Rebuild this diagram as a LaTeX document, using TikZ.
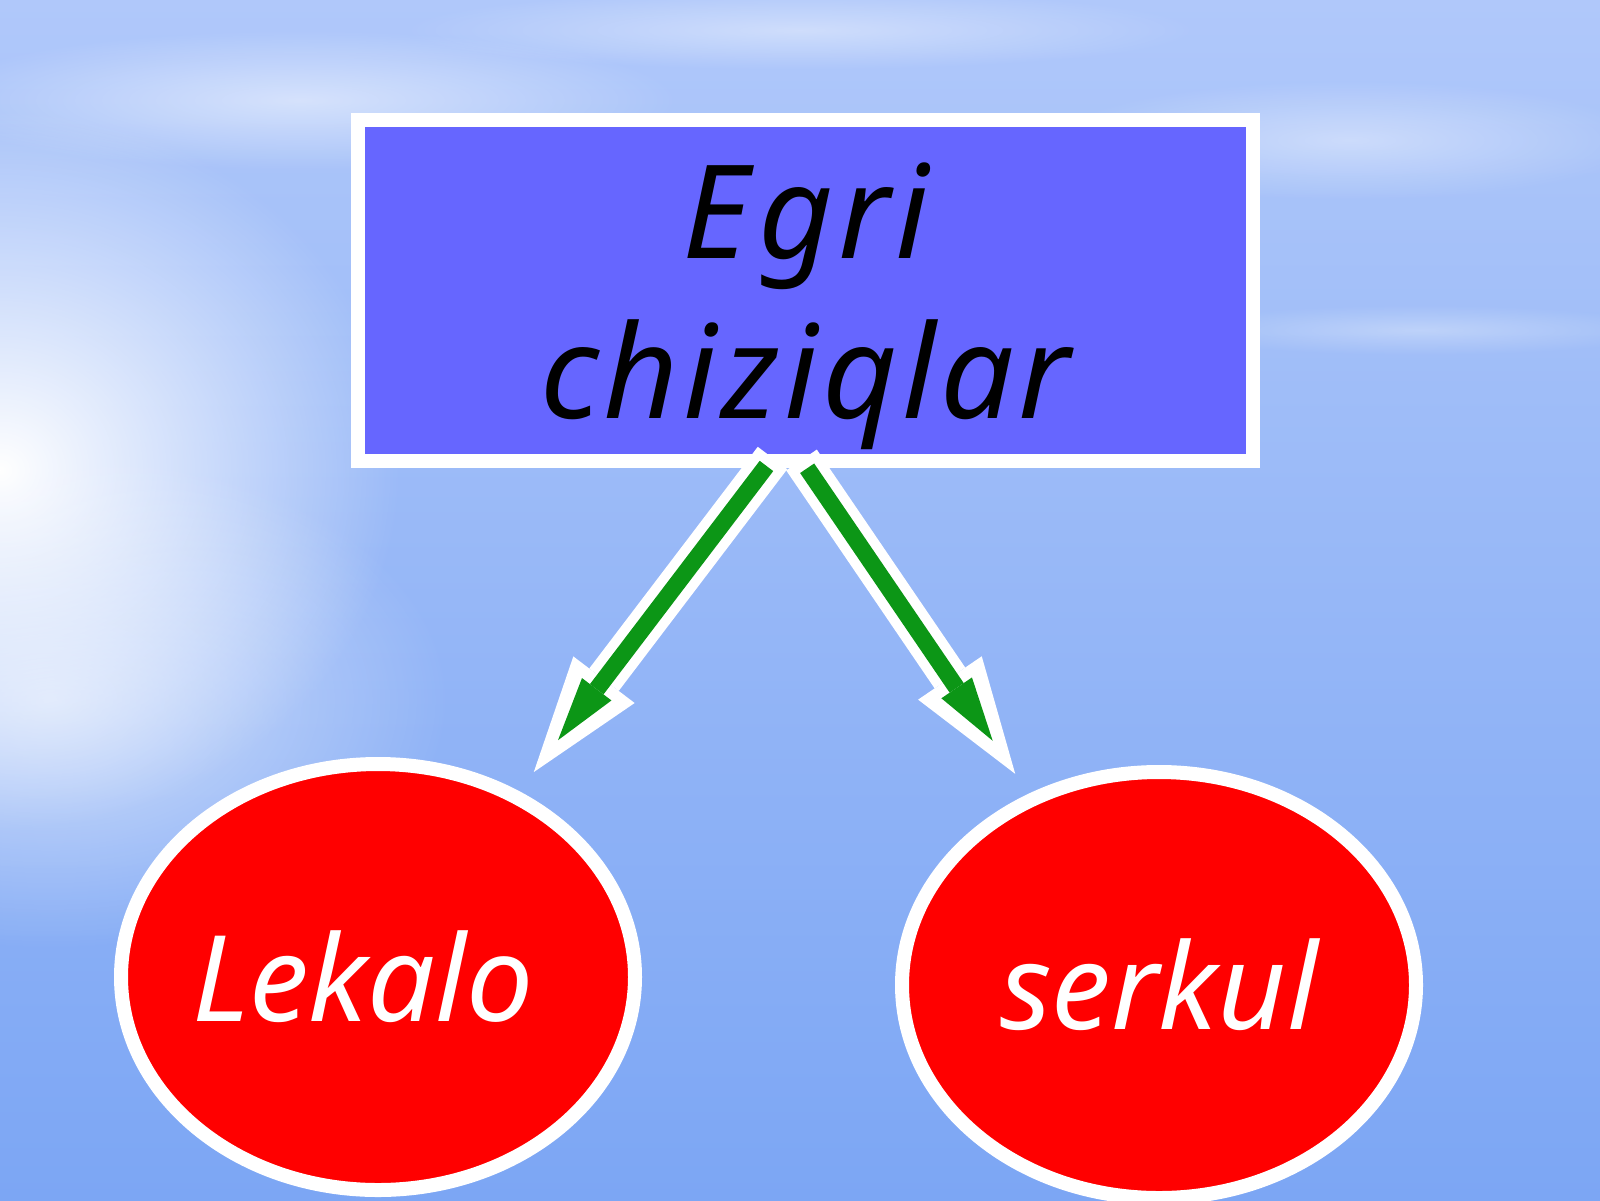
\documentclass[tikz,border=0pt]{standalone}
\usepackage{fontspec}
\setmainfont{Noto Sans}
\usetikzlibrary{positioning,arrows.meta,shapes.geometric,fadings}

\definecolor{skytop}{RGB}{176,200,250}
\definecolor{skybottom}{RGB}{124,166,244}
\definecolor{boxblue}{RGB}{102,102,255}
\definecolor{arrowgreen}{RGB}{12,150,22}

\tikzfading[name=glow, inner color=transparent!0, outer color=transparent!100]

\tikzset{
  link/.style={draw=arrowgreen, line width=1.7mm,
    -{Triangle[length=6.4mm,width=3.7mm,line width=0pt]},
    shorten <=1mm, shorten >=6.4mm,
    preaction={draw=white, line width=3.7mm,
      -{Triangle[length=11.6mm,width=7.7mm,line width=0pt]},
      shorten <=0mm, shorten >=2.4mm}}
}

\begin{document}
\begin{tikzpicture}
    \useasboundingbox (0,0) rectangle (16,12);
    %%%%% THE SKY
    \shade[top color=skytop, bottom color=skybottom] (0,0) rectangle (16,12);
    \begin{scope}
      \clip (0,0) rectangle (16,12);
      \fill[white, path fading=glow] (0,7.3) ellipse (4 and 3.6);
      \fill[white, opacity=0.6, path fading=glow] (0.5,5) ellipse (4 and 2.5);
      \fill[white, opacity=0.5, path fading=glow] (3,11) ellipse (3.8 and 0.7);
      \fill[white, opacity=0.4, path fading=glow] (8,11.7) ellipse (4 and 0.4);
      \fill[white, opacity=0.4, path fading=glow] (13.5,10.6) ellipse (3 and 0.6);
      \fill[white, opacity=0.3, path fading=glow] (14.2,8.7) ellipse (2.5 and 0.25);
    \end{scope}
    %%%%% THE TITLE BOX
    \node[draw=white, line width=1.4mm, fill=boxblue, minimum width=8.95cm,
      minimum height=3.41cm, align=center, text depth=-1mm,
      font=\itshape\fontsize{37}{45.5}\selectfont\addfontfeature{LetterSpace=3.5}]
      (TITLE) at (8.055,9.095) {E\kern1mm gri\\chiziqlar};
    %%%%% THE TWO TOOLS
    \begin{scope}[every node/.style={shape=ellipse, draw=white, line width=1.4mm,
        fill=red, text=white, inner sep=-10mm, minimum width=5.14cm,
        minimum height=4.26cm, font=\itshape\fontsize{34}{40}\selectfont}]
      \node (LEKALO) at (3.78,2.23) {Lekalo\kern3mm};
      \node (SERKUL) at (11.59,2.15) {serkul};
    \end{scope}
    %%%%% LINKS FROM THE BOX TO THE TOOLS
    \coordinate[above left=1mm and 3.3mm of TITLE.south] (ltail);
    \coordinate[above left=0.8mm and 0.4mm of TITLE.south] (rtail);
    \draw[link] (ltail) -- (LEKALO);
    \draw[link] (rtail) -- (SERKUL);
\end{tikzpicture}
\end{document}
